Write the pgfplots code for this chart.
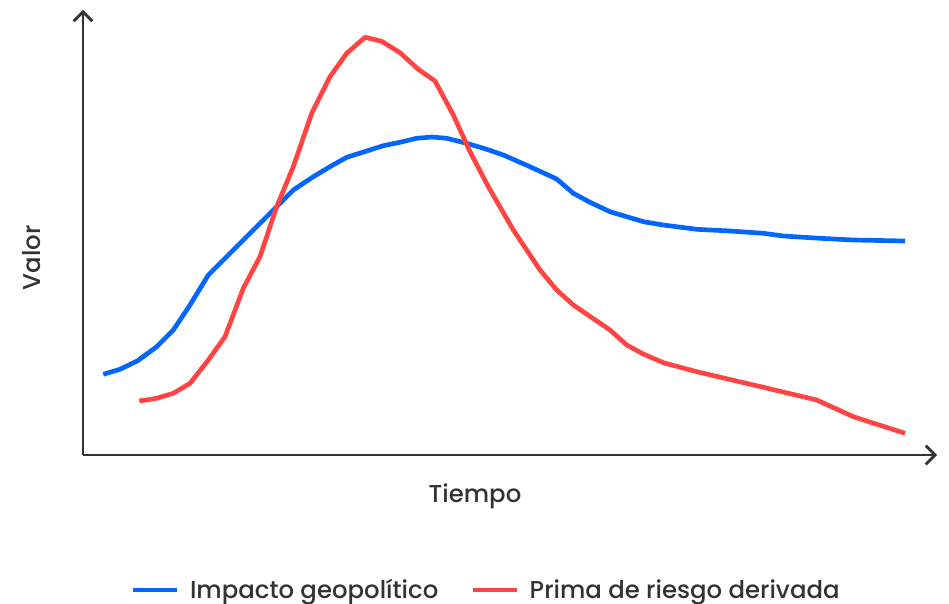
\documentclass[border=0pt]{standalone}
\usepackage{pgfplots}
\pgfplotsset{compat=1.18}
\usepackage{fontspec}
\setmainfont{Poppins}[UprightFont={* Medium}]
\usetikzlibrary{arrows.meta}
\definecolor{cblue}{HTML}{0066FF}
\definecolor{cred}{HTML}{FF4444}
\definecolor{ctext}{HTML}{333333}
\begin{document}
\begin{tikzpicture}
\useasboundingbox (-83*0.75pt,-148*0.75pt) rectangle (866*0.75pt,455*0.75pt);
\begin{axis}[
  anchor=origin, at={(0,0)},
  x=0.75pt, y=0.75pt,
  xmin=0, xmax=854, ymin=0, ymax=445,
  axis lines=left,
  axis line style={line width=2pt, draw=ctext, -{Straight Barb[length=7pt,width=14pt,line width=2pt]}},
  xtick=\empty, ytick=\empty,
  clip=false,
  font=\fontsize{18.3}{21}\selectfont\color{ctext},
  xlabel={Tiempo}, ylabel={Valor},
  every axis x label/.style={at={(rel axis cs:0.459,-0.092)},anchor=center},
  every axis y label/.style={at={(rel axis cs:-0.06,0.443)},anchor=center,rotate=90},
  legend columns=2,
  legend style={draw=none, at={(rel axis cs:0.4725,-0.303)}, anchor=center, font=\fontsize{18.3}{21}\selectfont\color{ctext},
    cells={anchor=west},
    /tikz/every odd column/.append style={column sep=6pt},
    /tikz/every even column/.append style={column sep=22pt}},
  legend image code/.code={\draw[#1, line width=3.5pt] (0pt,0pt) -- (33pt,0pt);},
]
\addplot[cblue, line width=3.5pt, line join=round] table[x expr=\thisrowno{0}-83, y expr=455-\thisrowno{1}] {
103.3 374.3
120 369.3
137.7 360.7
156.7 346.7
173.3 330
190 305
208.3 275
223.3 260
240 243.3
256.7 226.7
273.3 210
293.3 190
313.3 176.7
330 166.7
346.7 157.3
366.7 151
383.3 145.7
400 142.3
416.7 138.3
432 137.0
446.7 138.3
466.7 143.3
486.7 149.3
503.3 155
530 166.7
556.7 179
573.3 193.3
590 202.3
610 211.7
643.3 221.7
663.3 225
696.7 229.3
730 231
763.3 233.3
783.3 236
820 238.3
853.3 240
905 241
};
\addlegendentry{Impacto geopolítico}
\addplot[cred, line width=3.5pt, line join=round] table[x expr=\thisrowno{0}-83, y expr=455-\thisrowno{1}] {
139.3 401
156.7 398.3
173.3 393.3
190 383.3
208.3 360
225 336.7
243.3 288.3
260 256.7
276.7 206.7
293.3 166.7
311.7 113.3
330 76.7
346.7 53.3
365 37.3
381.7 41.3
400 52.7
418.3 69.3
435 81
453.3 115
470 151.7
488.3 186.7
513.3 230
540 270
556.7 290
573.3 305
610 330
626.7 345
643.3 354
663.3 362.7
696.7 371.7
763.3 387.3
816.7 400
853.3 416.7
905 433.3
};
\addlegendentry{Prima de riesgo derivada}
\end{axis}
\end{tikzpicture}
\end{document}
